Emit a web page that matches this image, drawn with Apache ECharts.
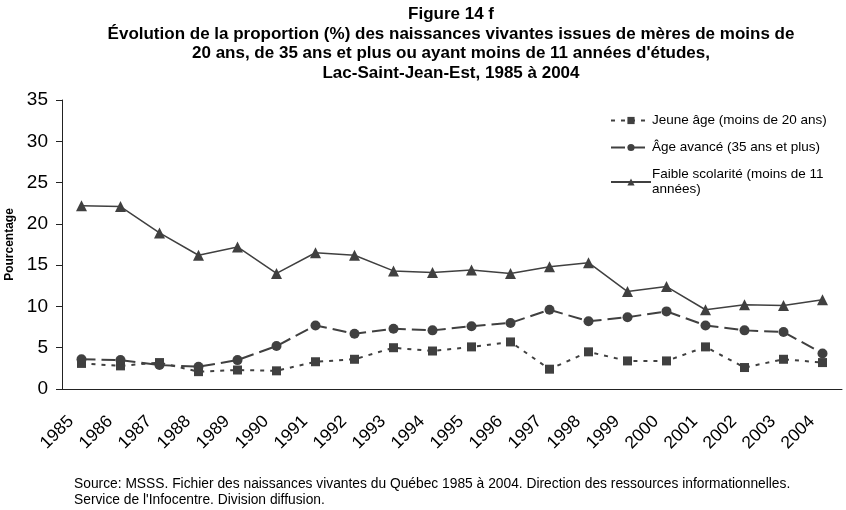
<!DOCTYPE html>
<html>
<head>
<meta charset="utf-8">
<script src="https://cdn.jsdelivr.net/npm/echarts@6/dist/echarts.min.js"></script>
<style>
  html, body { margin: 0; padding: 0; background: #fff; }
  #main { width: 846px; height: 510px; }
</style>
</head>
<body>
<div id="main"></div>
<script>
  // années
  var years = ['1985', '1986', '1987', '1988', '1989', '1990', '1991', '1992', '1993', '1994',
    '1995', '1996', '1997', '1998', '1999', '2000', '2001', '2002', '2003', '2004'];
  // moins de 20 ans
  var jeuneAge = [3.1, 2.8, 3.2, 2.1, 2.3, 2.2, 3.3, 3.6, 5.0, 4.6,
    5.1, 5.7, 2.4, 4.5, 3.4, 3.4, 5.1, 2.6, 3.6, 3.2];
  // 35 ans et plus
  var ageAvance = [3.6, 3.5, 2.9, 2.7, 3.5, 5.2, 7.7, 6.7, 7.3, 7.1,
    7.6, 8.0, 9.6, 8.2, 8.7, 9.4, 7.7, 7.1, 6.9, 4.3];
  // moins de 11 années d'études
  var faibleScol = [22.2, 22.1, 18.9, 16.2, 17.2, 14.0, 16.5, 16.2, 14.3, 14.1,
    14.4, 14.0, 14.8, 15.3, 11.8, 12.4, 9.6, 10.2, 10.1, 10.8];

  var font = 'Liberation Sans, Arial, sans-serif';
  var gris = '#404040';

  var myChart = echarts.init(document.getElementById('main'));
  myChart.setOption({
    animation: false,
    title: [
      {
        text: 'Figure 14 f\nÉvolution de la proportion (%) des naissances vivantes issues de mères de moins de\n20 ans, de 35 ans et plus ou ayant moins de 11 années d\'études,\nLac-Saint-Jean-Est, 1985 à 2004',
        left: 446,
        top: 0,
        textAlign: 'center',
        textStyle: { fontFamily: font, fontWeight: 'bold', fontSize: 17, lineHeight: 19.5, color: '#000' }
      },
      {
        text: 'Source: MSSS. Fichier des naissances vivantes du Québec 1985 à 2004. Direction des ressources informationnelles.\nService de l\'Infocentre. Division diffusion.',
        left: 69,
        top: 471,
        textStyle: { fontFamily: font, fontWeight: 'normal', fontSize: 13.8, lineHeight: 16, color: '#000' }
      }
    ],
    legend: {
      orient: 'vertical',
      left: 605,
      top: 108,
      itemWidth: 40,
      itemHeight: 9,
      itemGap: 12,
      textStyle: { fontFamily: font, fontSize: 13.5, color: '#000', lineHeight: 15, padding: [0, 0, 0, -4] },
      data: ['Jeune âge (moins de 20 ans)', 'Âge avancé (35 ans et plus)', 'Faible scolarité (moins de 11\nannées)']
    },
    grid: { left: 62, right: 4, top: 100, bottom: 121, outerBoundsMode: 'none' },
    xAxis: {
      type: 'category',
      data: years,
      axisLine: { lineStyle: { color: '#222', width: 1 } },
      axisTick: { length: 5, lineStyle: { color: '#222' } },
      axisLabel: { rotate: 45, fontFamily: font, fontSize: 17.5, color: '#000', margin: 19, padding: [0, 15, 0, 0] }
    },
    yAxis: {
      type: 'value',
      min: 0,
      max: 35,
      interval: 5,
      name: 'Pourcentage',
      nameLocation: 'middle',
      nameRotate: 90,
      nameGap: 45,
      nameTextStyle: { fontFamily: font, fontWeight: 'bold', fontSize: 12, color: '#000' },
      axisLine: { show: true, lineStyle: { color: '#222', width: 1 } },
      axisTick: { show: true, length: 6, lineStyle: { color: '#222' } },
      splitLine: { show: false },
      axisLabel: { fontFamily: font, fontSize: 19, color: '#000', margin: 14 }
    },
    series: [
      {
        name: 'Jeune âge (moins de 20 ans)',
        type: 'line',
        data: jeuneAge,
        symbol: 'rect',
        symbolSize: 9,
        itemStyle: { color: gris },
        lineStyle: { color: gris, width: 2, type: [4, 6] }
      },
      {
        name: 'Âge avancé (35 ans et plus)',
        type: 'line',
        data: ageAvance,
        symbol: 'circle',
        symbolSize: 10,
        itemStyle: { color: gris },
        lineStyle: { color: gris, width: 2, type: [14, 6] }
      },
      {
        name: 'Faible scolarité (moins de 11\nannées)',
        type: 'line',
        data: faibleScol,
        symbol: 'triangle',
        symbolSize: 11,
        itemStyle: { color: gris },
        lineStyle: { color: gris, width: 1.5 }
      }
    ]
  });
</script>
</body>
</html>
